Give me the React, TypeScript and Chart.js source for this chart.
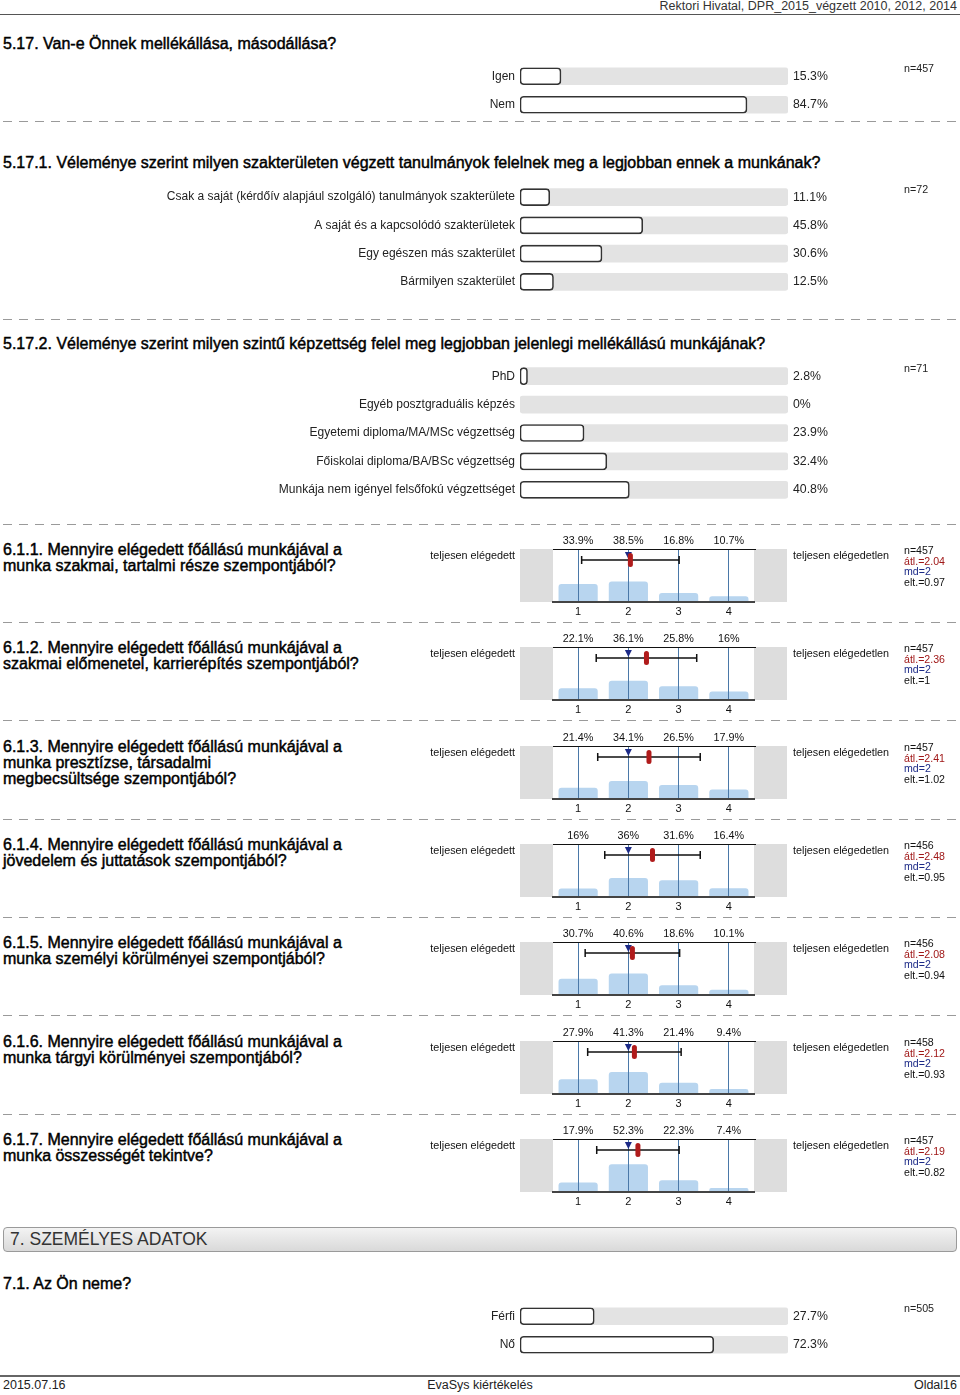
import React, { useEffect, useRef } from "react";
import { Chart, registerables } from "chart.js";
Chart.register(...registerables);

const FONT = '"Liberation Sans", Arial, Helvetica, sans-serif';
Chart.defaults.font.family = FONT;

// ---------- data ----------
const headerText = "Rektori Hivatal, DPR_2015_végzett 2010, 2012, 2014";

const q517Title = "5.17. Van-e Önnek mellékállása, másodállása?";
const q517Labels = ["Igen", "Nem"];
const q517Values = [15.3, 84.7];
const q517N = 457;

const q5171Title = "5.17.1. Véleménye szerint milyen szakterületen végzett tanulmányok felelnek meg a legjobban ennek a munkának?";
const q5171Labels = [
  "Csak a saját (kérdőív alapjául szolgáló) tanulmányok szakterülete",
  "A saját és a kapcsolódó szakterületek",
  "Egy egészen más szakterület",
  "Bármilyen szakterület",
];
const q5171Values = [11.1, 45.8, 30.6, 12.5];
const q5171N = 72;

const q5172Title = "5.17.2. Véleménye szerint milyen szintű képzettség felel meg legjobban jelenlegi mellékállású munkájának?";
const q5172Labels = [
  "PhD",
  "Egyéb posztgraduális képzés",
  "Egyetemi diploma/MA/MSc végzettség",
  "Főiskolai diploma/BA/BSc végzettség",
  "Munkája nem igényel felsőfokú végzettséget",
];
const q5172Values = [2.8, 0, 23.9, 32.4, 40.8];
const q5172N = 71;

const histTitles = [
  ["6.1.1. Mennyire elégedett főállású munkájával a", "munka szakmai, tartalmi része szempontjából?"],
  ["6.1.2. Mennyire elégedett főállású munkájával a", "szakmai előmenetel, karrierépítés szempontjából?"],
  ["6.1.3. Mennyire elégedett főállású munkájával a", "munka presztízse, társadalmi", "megbecsültsége szempontjából?"],
  ["6.1.4. Mennyire elégedett főállású munkájával a", "jövedelem és juttatások szempontjából?"],
  ["6.1.5. Mennyire elégedett főállású munkájával a", "munka személyi körülményei szempontjából?"],
  ["6.1.6. Mennyire elégedett főállású munkájával a", "munka tárgyi körülményei szempontjából?"],
  ["6.1.7. Mennyire elégedett főállású munkájával a", "munka összességét tekintve?"],
];
const scaleLabels = ["1", "2", "3", "4"];
const scaleLeft = "teljesen elégedett";
const scaleRight = "teljesen elégedetlen";
const hist611 = [33.9, 38.5, 16.8, 10.7];
const hist612 = [22.1, 36.1, 25.8, 16];
const hist613 = [21.4, 34.1, 26.5, 17.9];
const hist614 = [16, 36, 31.6, 16.4];
const hist615 = [30.7, 40.6, 18.6, 10.1];
const hist616 = [27.9, 41.3, 21.4, 9.4];
const hist617 = [17.9, 52.3, 22.3, 7.4];
const histValues = [hist611, hist612, hist613, hist614, hist615, hist616, hist617];
const histN = [457, 457, 457, 456, 456, 458, 457];
const histMean = [2.04, 2.36, 2.41, 2.48, 2.08, 2.12, 2.19];
const histMd = [2, 2, 2, 2, 2, 2, 2];
const histSd = [0.97, 1, 1.02, 0.95, 0.94, 0.93, 0.82];

const sectionTitle = "7. SZEMÉLYES ADATOK";
const q71Title = "7.1. Az Ön neme?";
const q71Labels = ["Férfi", "Nő"];
const q71Values = [27.7, 72.3];
const q71N = 505;

const footerLeft = "2015.07.16";
const footerCenter = "EvaSys kiértékelés";
const footerRight = "Oldal16";

// ---------- layout constants ----------
const ROW = 28.3;
const HIST_TOP = 549;
const HIST_STEP = 98.3;
const HEAD_STROKE = "0.45px #000";

function Txt(props: any) {
  const { x, y, size = 12, bold = false, color = "#000", align = "left", children } = props;
  const style: any = {
    position: "absolute",
    top: y - size * 0.6,
    lineHeight: `${size * 1.2}px`,
    fontSize: size,
    fontWeight: "normal",
    color,
    fontFamily: FONT,
    whiteSpace: "nowrap",
  };
  if (bold) style.WebkitTextStroke = HEAD_STROKE;
  if (align === "left") style.left = x;
  else if (align === "right") style.right = 960 - x;
  else {
    style.left = x - 300;
    style.width = 600;
    style.textAlign = "center";
  }
  return <div style={style}>{children}</div>;
}

function Dash({ y }: { y: number }) {
  return (
    <div
      style={{
        position: "absolute",
        left: 3,
        top: y,
        width: 954,
        height: 1,
        background: "repeating-linear-gradient(to right, #9a9a9a 0px, #9a9a9a 9px, transparent 9px, transparent 16px)",
      }}
    />
  );
}

function HBar({ labels, values, n, top }: { labels: string[]; values: number[]; n: number; top: number }) {
  const ref = useRef<HTMLCanvasElement>(null);
  const h = Math.round(labels.length * ROW);
  useEffect(() => {
    const plugin = {
      id: "pctLabels",
      afterDatasetsDraw(chart: any) {
        const { ctx, chartArea, scales } = chart;
        ctx.save();
        ctx.textBaseline = "middle";
        ctx.textAlign = "left";
        ctx.fillStyle = "#222";
        ctx.font = `12.3px ${FONT}`;
        values.forEach((v, i) => {
          ctx.fillText(`${v}%`, chartArea.right + 5, scales.y.getPixelForValue(i));
        });
        ctx.font = `10.7px ${FONT}`;
        ctx.fillText(`n=${n}`, 904, scales.y.getPixelForValue(0) - 7);
        ctx.restore();
      },
    };
    const chart = new Chart(ref.current as HTMLCanvasElement, {
      type: "bar",
      data: {
        labels,
        datasets: [
          {
            data: labels.map(() => 100),
            backgroundColor: "#e3e3e3",
            borderWidth: 0,
            borderRadius: 3,
            borderSkipped: false,
            barThickness: 17,
            grouped: false,
            order: 2,
          } as any,
          {
            data: values.map((v) => (v > 0 ? v : null)),
            backgroundColor: "#ffffff",
            borderColor: "#333333",
            borderWidth: 1.6,
            borderRadius: 4,
            borderSkipped: false,
            barThickness: 17,
            grouped: false,
            order: 1,
          } as any,
        ],
      },
      options: {
        indexAxis: "y",
        responsive: false,
        animation: false,
        layout: { padding: { left: 0, right: 172, top: 0, bottom: 0 } },
        plugins: { legend: { display: false }, tooltip: { enabled: false } },
        scales: {
          x: { display: false, min: 0, max: 100 },
          y: {
            grid: { display: false, drawTicks: false },
            border: { display: false },
            ticks: { autoSkip: false, padding: 5, color: "#222", font: { size: 12, family: FONT } },
            afterFit: (s: any) => {
              s.width = 520;
              s.paddingTop = 0;
              s.paddingBottom = 0;
            },
          },
        },
      } as any,
      plugins: [plugin],
    });
    return () => chart.destroy();
  }, []);
  return (
    <canvas
      ref={ref}
      width={960}
      height={h}
      style={{ position: "absolute", left: 0, top, display: "block" }}
    />
  );
}

function HistBlock({ idx }: { idx: number }) {
  const ref = useRef<HTMLCanvasElement>(null);
  const T = Math.round(HIST_TOP + idx * HIST_STEP);
  useEffect(() => {
    const values = histValues[idx];
    const mean = histMean[idx];
    const md = histMd[idx];
    const sd = histSd[idx];
    const n = histN[idx];
    const plugin = {
      id: "histDecor",
      beforeDraw(chart: any) {
        const { ctx, chartArea: a } = chart;
        ctx.save();
        ctx.fillStyle = "#dddddd";
        ctx.fillRect(a.left - 33, a.top, 33, a.bottom - a.top);
        ctx.fillRect(a.right, a.top, 33, a.bottom - a.top);
        ctx.restore();
      },
      afterDraw(chart: any) {
        const { ctx, chartArea: a, scales } = chart;
        const x = scales.x;
        ctx.save();
        // top line
        ctx.strokeStyle = "#111";
        ctx.lineWidth = 1;
        ctx.beginPath();
        ctx.moveTo(a.left, a.top + 0.5);
        ctx.lineTo(a.right + 2, a.top + 0.5);
        ctx.stroke();
        // percent labels
        ctx.fillStyle = "#111";
        ctx.font = `10.8px ${FONT}`;
        ctx.textAlign = "center";
        ctx.textBaseline = "middle";
        values.forEach((v, i) => {
          ctx.fillText(`${v}%`, x.getPixelForValue(i), a.top - 8);
        });
        // error bar
        const ey = a.top + 11;
        const lo = x.getPixelForValue(mean - sd - 1);
        const hi = x.getPixelForValue(mean + sd - 1);
        ctx.strokeStyle = "#111";
        ctx.lineWidth = 1.5;
        ctx.beginPath();
        ctx.moveTo(lo, ey);
        ctx.lineTo(hi, ey);
        ctx.moveTo(lo, ey - 4);
        ctx.lineTo(lo, ey + 4);
        ctx.moveTo(hi, ey - 4);
        ctx.lineTo(hi, ey + 4);
        ctx.stroke();
        // median triangle
        const mx = x.getPixelForValue(md - 1);
        ctx.fillStyle = "#1c2a87";
        ctx.beginPath();
        ctx.moveTo(mx - 3.5, a.top + 3);
        ctx.lineTo(mx + 3.5, a.top + 3);
        ctx.lineTo(mx, a.top + 10);
        ctx.closePath();
        ctx.fill();
        // mean pill
        const px = x.getPixelForValue(mean - 1);
        ctx.fillStyle = "#b01b1b";
        ctx.beginPath();
        (ctx as any).roundRect(px - 2.5, a.top + 4, 5, 14, 2.5);
        ctx.fill();
        // side labels
        ctx.fillStyle = "#111";
        ctx.font = `10.8px ${FONT}`;
        ctx.textAlign = "right";
        ctx.fillText(scaleLeft, a.left - 38, a.top + 7);
        ctx.textAlign = "left";
        ctx.fillText(scaleRight, a.right + 39, a.top + 7);
        // stats
        ctx.font = `10.6px ${FONT}`;
        const sx = 484;
        ctx.fillStyle = "#111";
        ctx.fillText(`n=${n}`, sx, a.top + 2.5);
        ctx.fillStyle = "#a01818";
        ctx.fillText(`átl.=${mean}`, sx, a.top + 13);
        ctx.fillStyle = "#1c2a87";
        ctx.fillText(`md=${md}`, sx, a.top + 23.5);
        ctx.fillStyle = "#111";
        ctx.fillText(`elt.=${sd}`, sx, a.top + 34);
        ctx.restore();
      },
    };
    const chart = new Chart(ref.current as HTMLCanvasElement, {
      type: "bar",
      data: {
        labels: scaleLabels,
        datasets: [
          {
            data: values,
            backgroundColor: "#b8d5ef",
            borderWidth: 0,
            borderRadius: { topLeft: 3, topRight: 3, bottomLeft: 0, bottomRight: 0 },
            barPercentage: 0.78,
            categoryPercentage: 1,
          } as any,
        ],
      },
      options: {
        responsive: false,
        animation: false,
        layout: { padding: { left: 133, right: 206, top: 20, bottom: 0 } },
        plugins: { legend: { display: false }, tooltip: { enabled: false } },
        scales: {
          x: {
            offset: true,
            grid: { offset: false, color: "#4a78a8", lineWidth: 1, drawTicks: false, z: 1 },
            border: { display: true, color: "#444", width: 2, z: 1 },
            ticks: { padding: 3, color: "#111", font: { size: 11, family: FONT } },
            afterFit: (s: any) => {
              s.height = 22;
            },
          },
          y: { display: false, min: 0, max: 100 },
        },
      } as any,
      plugins: [plugin],
    });
    return () => chart.destroy();
  }, [idx]);
  return (
    <>
      <div
        style={{
          position: "absolute",
          left: 3,
          top: T + 1 - 8.15,
          fontSize: 16,
          lineHeight: "16.3px",
          fontWeight: "normal",
          WebkitTextStroke: HEAD_STROKE,
          fontFamily: FONT,
          whiteSpace: "nowrap",
          color: "#000",
        }}
      >
        {histTitles[idx].map((l, i) => (
          <div key={i}>{l}</div>
        ))}
      </div>
      <canvas
        ref={ref}
        width={540}
        height={95}
        style={{ position: "absolute", left: 420, top: T - 20, display: "block" }}
      />
      {idx < histTitles.length - 1 && <Dash y={T + 73} />}
    </>
  );
}

export default function App() {
  return (
    <div
      style={{
        position: "absolute",
        left: 0,
        top: 0,
        width: 960,
        height: 1395,
        background: "#fff",
        overflow: "hidden",
        fontFamily: FONT,
      }}
    >
      <Txt x={957} y={6} size={12.5} align="right" color="#333">
        {headerText}
      </Txt>
      <div style={{ position: "absolute", left: 0, top: 14, width: 960, height: 1, background: "#555" }} />

      <Txt x={3} y={44} size={16} bold>
        {q517Title}
      </Txt>
      <HBar labels={q517Labels} values={q517Values} n={q517N} top={62} />
      <Dash y={121} />

      <Txt x={3} y={163} size={16} bold>
        {q5171Title}
      </Txt>
      <HBar labels={q5171Labels} values={q5171Values} n={q5171N} top={183} />
      <Dash y={319} />

      <Txt x={3} y={344} size={16} bold>
        {q5172Title}
      </Txt>
      <HBar labels={q5172Labels} values={q5172Values} n={q5172N} top={362} />
      <Dash y={524} />

      {histTitles.map((_, i) => (
        <HistBlock key={i} idx={i} />
      ))}

      <div
        style={{
          position: "absolute",
          left: 3,
          top: 1227,
          width: 952,
          height: 23,
          border: "1px solid #9a9a9a",
          borderRadius: 4,
          background: "linear-gradient(#f3f3f3, #d9d9d9)",
        }}
      />
      <Txt x={10} y={1239} size={17.5} color="#333">
        {sectionTitle}
      </Txt>

      <Txt x={3} y={1284} size={16} bold>
        {q71Title}
      </Txt>
      <HBar labels={q71Labels} values={q71Values} n={q71N} top={1302} />

      <div style={{ position: "absolute", left: 0, top: 1375, width: 960, height: 2, background: "#666" }} />
      <Txt x={3} y={1385} size={12.5} color="#222">
        {footerLeft}
      </Txt>
      <Txt x={480} y={1385} size={12.5} align="center" color="#222">
        {footerCenter}
      </Txt>
      <Txt x={957} y={1385} size={12.5} align="right" color="#222">
        {footerRight}
      </Txt>
    </div>
  );
}
